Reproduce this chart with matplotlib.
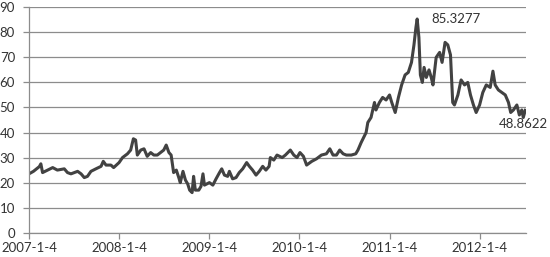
import matplotlib
matplotlib.use("Agg")
import matplotlib.pyplot as plt
import pandas as pd

dates = [
    "2007-01-04", "2007-01-22", "2007-02-15", "2007-02-21", "2007-02-28", "2007-04-10",
    "2007-04-29", "2007-05-27", "2007-06-09", "2007-06-23", "2007-07-20", "2007-08-03",
    "2007-08-16", "2007-08-29", "2007-09-12", "2007-10-02", "2007-10-23", "2007-11-01",
    "2007-11-12", "2007-12-02", "2007-12-13", "2008-01-04", "2008-01-18", "2008-02-07",
    "2008-02-20", "2008-03-02", "2008-03-11", "2008-03-18", "2008-04-01", "2008-04-14",
    "2008-04-27", "2008-05-11", "2008-05-24", "2008-06-07", "2008-06-20", "2008-07-03",
    "2008-07-13", "2008-07-24", "2008-08-02", "2008-08-12", "2008-08-23", "2008-09-02",
    "2008-09-08", "2008-09-19", "2008-09-29", "2008-10-08", "2008-10-16", "2008-10-26",
    "2008-11-01", "2008-11-08", "2008-11-22", "2008-12-01", "2008-12-09", "2008-12-15",
    "2009-01-04", "2009-01-18", "2009-01-31", "2009-02-14", "2009-02-23", "2009-03-06",
    "2009-03-19", "2009-03-26", "2009-04-08", "2009-04-22", "2009-05-05", "2009-05-19",
    "2009-06-04", "2009-06-15", "2009-06-28", "2009-07-12", "2009-07-25", "2009-08-08",
    "2009-08-21", "2009-09-03", "2009-09-08", "2009-09-22", "2009-10-05", "2009-10-26",
    "2009-11-08", "2009-11-28", "2009-12-12", "2009-12-25", "2010-01-06", "2010-01-20",
    "2010-02-02", "2010-02-23", "2010-03-14", "2010-04-03", "2010-04-23", "2010-05-07",
    "2010-05-20", "2010-06-03", "2010-06-16", "2010-06-30", "2010-07-13", "2010-08-02",
    "2010-08-20", "2010-08-29", "2010-09-11", "2010-10-01", "2010-10-08", "2010-10-21",
    "2010-11-04", "2010-11-10", "2010-11-24", "2010-12-07", "2010-12-21", "2011-01-04",
    "2011-01-13", "2011-01-27", "2011-02-09", "2011-02-22", "2011-03-08", "2011-03-21",
    "2011-04-03", "2011-04-13", "2011-04-21", "2011-04-26", "2011-05-03", "2011-05-09",
    "2011-05-17", "2011-05-24", "2011-06-02", "2011-06-13", "2011-06-22", "2011-06-29",
    "2011-07-12", "2011-07-26", "2011-08-05", "2011-08-17", "2011-08-28", "2011-09-08",
    "2011-09-17", "2011-09-24", "2011-10-08", "2011-10-21", "2011-11-04", "2011-11-17",
    "2011-11-28", "2011-12-10", "2011-12-21", "2012-01-04", "2012-01-17", "2012-01-31",
    "2012-02-16", "2012-02-27", "2012-03-07", "2012-03-20", "2012-04-03", "2012-04-17",
    "2012-04-30", "2012-05-09", "2012-05-20", "2012-06-03", "2012-06-13", "2012-06-23",
    "2012-06-29", "2012-07-07",
]
values = [
    23.5, 24.5, 26.4, 27.5, 24.0, 26.0,
    25.0, 25.5, 24.0, 23.5, 24.5, 23.5,
    22.0, 22.5, 24.5, 25.5, 26.5, 28.5,
    27.0, 27.0, 26.0, 28.0, 30.0, 31.5,
    33.0, 37.5, 37.0, 31.0, 33.0, 33.5,
    30.5, 32.0, 31.0, 31.0, 32.0, 33.0,
    35.0, 32.0, 31.0, 24.0, 25.0, 22.0,
    20.0, 24.5, 21.0, 19.5, 17.0, 16.0,
    22.5, 17.0, 17.0, 18.5, 23.5, 19.0,
    20.0, 19.0, 21.5, 24.0, 25.5, 23.0,
    22.5, 24.5, 21.5, 22.0, 24.0, 25.5,
    28.0, 26.5, 25.0, 23.0, 24.5, 26.5,
    25.0, 26.5, 30.0, 29.0, 31.0, 30.0,
    31.0, 33.0, 31.0, 30.0, 32.0, 30.5,
    27.0, 28.5, 29.5, 31.0, 31.5, 33.5,
    31.0, 31.0, 33.0, 31.5, 31.0, 31.0,
    31.5, 33.0, 36.0, 40.0, 44.0, 46.0,
    52.0, 49.0, 52.0, 54.0, 53.0, 55.0,
    52.0, 48.0, 54.0, 59.0, 63.0, 64.0,
    68.0, 75.0, 82.0, 85.3277, 78.0, 63.0,
    60.0, 66.0, 62.0, 65.0, 62.0, 59.0,
    70.0, 72.0, 68.0, 76.0, 75.0, 71.0,
    52.0, 51.0, 55.0, 61.0, 59.0, 60.0,
    55.0, 51.0, 48.0, 51.0, 56.0, 59.0,
    58.0, 64.5, 59.0, 57.0, 56.0, 55.0,
    52.0, 48.0, 49.0, 51.0, 47.0, 49.0,
    46.0, 48.8622,
]
tick_dates = ["2007-01-04", "2008-01-04", "2009-01-04", "2010-01-04", "2011-01-04", "2012-01-04"]
tick_labels = ["2007-1-4", "2008-1-4", "2009-1-4", "2010-1-4", "2011-1-4", "2012-1-4"]
y_ticks = list(range(0, 100, 10))
peak_label = "85.3277"
end_label = "48.8622"

x = pd.to_datetime(dates)
plt.rcParams['font.family'] = ['Lato', 'DejaVu Sans']

fig = plt.figure(figsize=(5.5, 2.57), dpi=100)
ax = fig.add_axes([29/550, 1 - 232.7/257, (526 - 29)/550, (232.7 - 7.3)/257])

ax.plot(x, values, color="#424242", lw=2.2, solid_joinstyle="round")

ax.set_ylim(0, 90)
ax.set_yticks(y_ticks)
ax.set_xlim(pd.Timestamp("2007-01-04"), pd.Timestamp("2012-07-10"))
ax.set_xticks(pd.to_datetime(tick_dates))
ax.set_xticklabels(tick_labels)

ax.grid(axis="y", color="#8c8c8c", lw=0.9)
ax.set_axisbelow(True)
for s in ["top", "right"]:
    ax.spines[s].set_visible(False)
for s in ["left", "bottom"]:
    ax.spines[s].set_color("#8c8c8c")
    ax.spines[s].set_linewidth(0.9)
ax.tick_params(axis="both", colors="#8c8c8c", labelcolor="#333333", labelsize=9.5,
               length=4, width=0.9, direction="out")
ax.tick_params(axis="y", pad=6)
ax.tick_params(axis="x", pad=3)

# annotations
ipk = values.index(max(values))
ax.annotate(peak_label, (x[ipk], values[ipk]), xytext=(10, 0), textcoords="offset points",
            ha="left", va="center", fontsize=9.5, color="#333333")
ax.annotate(end_label, (x[-1], values[-1]), xytext=(16, -10), textcoords="offset points",
            ha="right", va="center", fontsize=9.5, color="#333333", annotation_clip=False)

fig.savefig("out.png", dpi=100)
